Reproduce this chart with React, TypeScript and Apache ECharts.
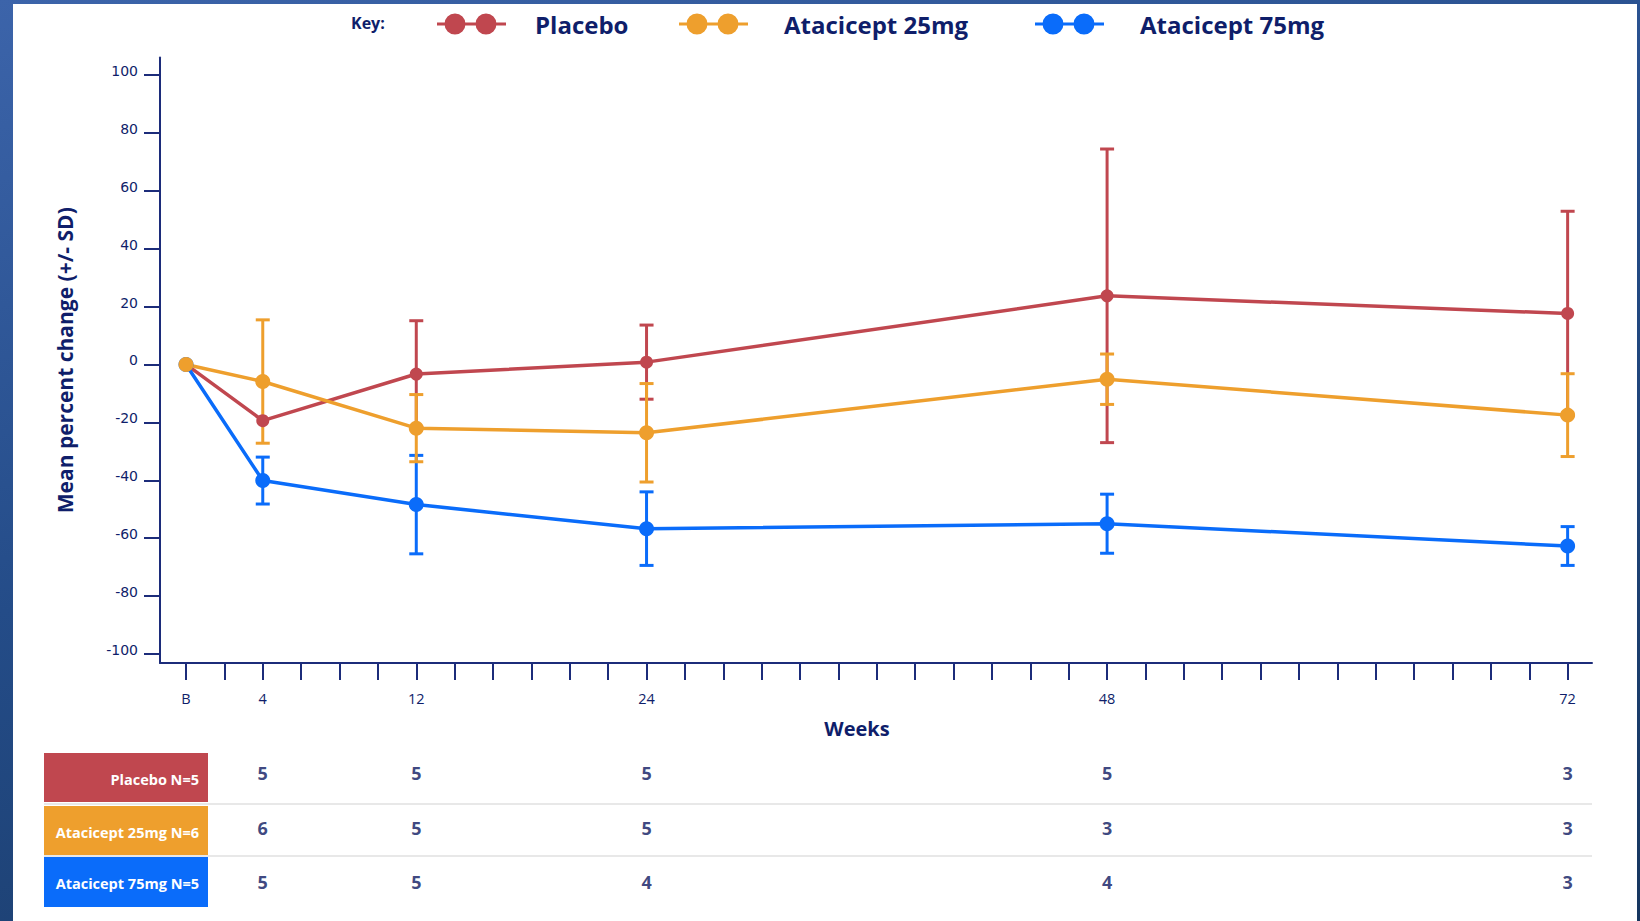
import React, { useEffect, useRef } from 'react';
import * as echarts from 'echarts';

// ---- data ----
const weeks = [0, 4, 12, 24, 48, 72];
const placeboMean = [0, -19.4, -3.3, 0.8, 23.7, 17.6];
const placeboSD = [null, null, 18.4, 12.8, 50.7, 35.3];
const ata25Mean = [0, -5.9, -22.0, -23.6, -5.1, -17.5];
const ata25SD = [null, 21.3, 11.6, 17.0, 8.7, 14.3];
const ata75Mean = [0, -40.1, -48.4, -56.7, -55.0, -62.7];
const ata75SD = [null, 8.1, 17.0, 12.7, 10.2, 6.7];

const countWeeks = [4, 12, 24, 48, 72];
const placeboN = [5, 5, 5, 5, 3];
const ata25N = [6, 5, 5, 3, 3];
const ata75N = [5, 5, 4, 4, 3];

const seriesNames = ['Placebo', 'Atacicept 25mg', 'Atacicept 75mg'];
const rowLabels = ['Placebo N=5', 'Atacicept 25mg N=6', 'Atacicept 75mg N=5'];
const xTickValues = Array.from({ length: 37 }, (_, i) => i * 2);
const xLabelValues = [0, 4, 12, 24, 48, 72];
const yTickValues = [-100, -80, -60, -40, -20, 0, 20, 40, 60, 80, 100];

// ---- styles ----
const RED = '#C0474F';
const ORANGE = '#EE9F2D';
const BLUE = '#0A6CFA';
const NAVY = '#0F1E6A';
const AXIS = '#1C2C7A';
const FONT = "'Open Sans', sans-serif";
const X_MIN = -1.355;
const X_MAX = 73.27;

const ICON =
  'path://M0,9.5L69,9.5L69,12.5L0,12.5Z M7.5,11A10.5,10.5,0,1,1,28.5,11A10.5,10.5,0,1,1,7.5,11Z M38.5,11A10.5,10.5,0,1,1,59.5,11A10.5,10.5,0,1,1,38.5,11Z';

function errSeries(name: string, mean: number[], sd: (number | null)[], color: string) {
  const data: number[][] = [];
  weeks.forEach((w, i) => {
    const s = sd[i];
    if (s != null) data.push([w, mean[i] - s, mean[i] + s]);
  });
  return {
    type: 'custom',
    name: name + ' SD',
    xAxisIndex: 0,
    yAxisIndex: 0,
    silent: true,
    encode: { x: 0, y: [1, 2] },
    data,
    renderItem: (_params: any, api: any) => {
      const x = api.value(0);
      const lo = api.coord([x, api.value(1)]);
      const hi = api.coord([x, api.value(2)]);
      const hw = 7;
      const st = { stroke: color, lineWidth: 3 };
      return {
        type: 'group',
        children: [
          { type: 'line', shape: { x1: hi[0], y1: hi[1], x2: lo[0], y2: lo[1] }, style: st },
          { type: 'line', shape: { x1: hi[0] - hw, y1: hi[1], x2: hi[0] + hw, y2: hi[1] }, style: st },
          { type: 'line', shape: { x1: lo[0] - hw, y1: lo[1], x2: lo[0] + hw, y2: lo[1] }, style: st },
        ],
      };
    },
  };
}

function lineSeries(name: string, mean: number[], color: string, size: number) {
  return {
    type: 'line',
    name,
    xAxisIndex: 0,
    yAxisIndex: 0,
    data: weeks.map((w, i) => [w, mean[i]]),
    symbol: 'circle',
    symbolSize: size,
    showAllSymbol: true,
    lineStyle: { color, width: 3.5 },
    itemStyle: { color },
    emphasis: { disabled: true },
  };
}

function countSeries(row: number, counts: number[]) {
  return {
    type: 'scatter',
    name: 'N' + row,
    xAxisIndex: 1,
    yAxisIndex: 1,
    symbolSize: 1,
    itemStyle: { color: 'rgba(0,0,0,0)' },
    silent: true,
    data: countWeeks.map((w, i) => [w, row, counts[i]]),
    label: {
      show: true,
      position: 'inside',
      formatter: (p: any) => String(p.value[2]),
      fontFamily: FONT,
      fontWeight: 'bold',
      fontSize: 18,
      color: '#0B1760',
    },
  };
}

const legendBase = {
  itemWidth: 69,
  itemHeight: 22,
  icon: ICON,
  selectedMode: false,
  padding: 0,
  itemGap: 0,
  top: 12,
};

export default function App() {
  const ref = useRef<HTMLDivElement>(null);

  useEffect(() => {
    if (!ref.current) return;
    const chart = echarts.init(ref.current, undefined, { renderer: 'svg' });
    const rowColors = [RED, ORANGE, BLUE];
    const rowTops = [753, 806, 857];
    const rowHeights = [49, 49, 50];

    const graphics: any[] = [
      {
        type: 'text',
        x: 351,
        y: 23,
        style: { text: 'Key:', font: `bold 16px ${FONT}`, fill: NAVY, verticalAlign: 'middle' },
      },
      { type: 'line', shape: { x1: 44, y1: 804, x2: 1592, y2: 804 }, style: { stroke: '#E8E8E8', lineWidth: 2 } },
      { type: 'line', shape: { x1: 44, y1: 856, x2: 1592, y2: 856 }, style: { stroke: '#E8E8E8', lineWidth: 2 } },
    ];
    rowLabels.forEach((lab, i) => {
      graphics.push({
        type: 'rect',
        shape: { x: 44, y: rowTops[i], width: 164, height: rowHeights[i] },
        style: { fill: rowColors[i] },
      });
      graphics.push({
        type: 'text',
        x: 199,
        y: rowTops[i] + rowHeights[i] / 2 + 1.5,
        style: {
          text: lab,
          font: `bold 14.5px ${FONT}`,
          fill: '#FFFFFF',
          align: 'right',
          verticalAlign: 'middle',
        },
      });
    });

    const option: any = {
      animation: false,
      backgroundColor: 'transparent',
      textStyle: { fontFamily: FONT },
      legend: [
        {
          ...legendBase,
          left: 437,
          data: [seriesNames[0]],
          textStyle: { fontFamily: FONT, fontWeight: 'bold', fontSize: 24, color: NAVY, padding: [0, 0, 0, 24] },
        },
        {
          ...legendBase,
          left: 679,
          data: [seriesNames[1]],
          textStyle: { fontFamily: FONT, fontWeight: 'bold', fontSize: 24, color: NAVY, padding: [0, 0, 0, 31] },
        },
        {
          ...legendBase,
          left: 1035,
          data: [seriesNames[2]],
          textStyle: { fontFamily: FONT, fontWeight: 'bold', fontSize: 24, color: NAVY, padding: [0, 0, 0, 31] },
        },
      ],
      grid: [
        { left: 160, right: 48, top: 57.5, height: 605.5, containLabel: false },
        { left: 160, right: 48, top: 745.75, height: 163.5, containLabel: false },
      ],
      xAxis: [
        {
          type: 'value',
          gridIndex: 0,
          min: X_MIN,
          max: X_MAX,
          name: 'Weeks',
          nameLocation: 'middle',
          nameGap: 55,
          nameTextStyle: { fontFamily: FONT, fontWeight: 'bold', fontSize: 20, color: NAVY, padding: [0, 38, 0, 0] },
          axisLine: { show: true, onZero: false, lineStyle: { color: AXIS, width: 2 } },
          axisTick: { show: true, inside: false, length: 17, customValues: xTickValues, lineStyle: { color: AXIS, width: 2 } },
          axisLabel: {
            show: true,
            customValues: xLabelValues,
            margin: 28,
            formatter: (v: number) => (v === 0 ? 'B' : String(v)),
            fontFamily: FONT,
            fontSize: 14.5,
            color: NAVY,
          },
          splitLine: { show: false },
        },
        {
          type: 'value',
          gridIndex: 1,
          min: X_MIN,
          max: X_MAX,
          show: false,
        },
      ],
      yAxis: [
        {
          type: 'value',
          gridIndex: 0,
          min: -103.1,
          max: 106.0,
          name: 'Mean percent change (+/- SD)',
          nameLocation: 'middle',
          nameRotate: 90,
          nameGap: 85,
          nameTextStyle: { fontFamily: FONT, fontWeight: 'bold', fontSize: 21, color: NAVY },
          axisLine: { show: true, onZero: false, lineStyle: { color: AXIS, width: 2 } },
          axisTick: { show: true, inside: false, length: 16, customValues: yTickValues, lineStyle: { color: AXIS, width: 2 } },
          axisLabel: {
            show: true,
            customValues: yTickValues,
            margin: 22,
            fontFamily: "'DejaVu Sans', sans-serif",
            fontSize: 14,
            color: NAVY,
            verticalAlign: 'bottom',
            lineHeight: 8,
          },
          splitLine: { show: false },
        },
        {
          type: 'category',
          gridIndex: 1,
          data: [0, 1, 2],
          inverse: true,
          show: false,
        },
      ],
      graphic: graphics,
      series: [
        errSeries(seriesNames[0], placeboMean, placeboSD, RED),
        lineSeries(seriesNames[0], placeboMean, RED, 13),
        errSeries(seriesNames[2], ata75Mean, ata75SD, BLUE),
        lineSeries(seriesNames[2], ata75Mean, BLUE, 15),
        errSeries(seriesNames[1], ata25Mean, ata25SD, ORANGE),
        lineSeries(seriesNames[1], ata25Mean, ORANGE, 15),
        countSeries(0, placeboN),
        countSeries(1, ata25N),
        countSeries(2, ata75N),
      ],
    };
    chart.setOption(option);
    return () => {
      chart.dispose();
    };
  }, []);

  return (
    <div
      style={{
        position: 'absolute',
        left: 0,
        top: 0,
        width: 1640,
        height: 921,
        overflow: 'hidden',
        background: 'linear-gradient(165deg, #3C64AA 0%, #244C88 45%, #16365F 100%)',
      }}
    >
      <div style={{ position: 'absolute', left: 13, top: 4, width: 1624, height: 917, background: '#FFFFFF' }} />
      <div ref={ref} style={{ position: 'absolute', left: 0, top: 0, width: 1640, height: 921 }} />
    </div>
  );
}
